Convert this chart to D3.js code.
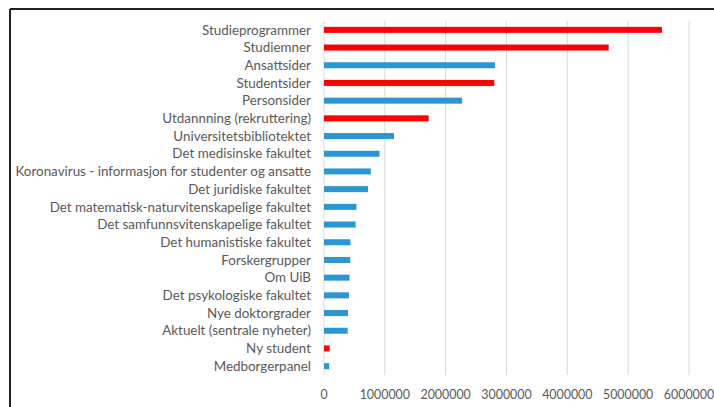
<html>
<head>
<meta charset="utf-8">
<script src="https://d3js.org/d3.v7.min.js"></script>
<style>
  body { margin: 0; background: #fff; }
  text { font-family: Lato, "Open Sans", sans-serif; fill: #595959; }
</style>
</head>
<body>
<div id="chart"></div>
<script>
// categories top to bottom
var categories = ["Studieprogrammer", "Studiemner", "Ansattsider", "Studentsider", "Personsider",
  "Utdannning (rekruttering)", "Universitetsbibliotektet", "Det medisinske fakultet",
  "Koronavirus - informasjon for studenter og ansatte", "Det juridiske fakultet",
  "Det matematisk-naturvitenskapelige fakultet", "Det samfunnsvitenskapelige fakultet",
  "Det humanistiske fakultet", "Forskergrupper", "Om UiB", "Det psykologiske fakultet",
  "Nye doktorgrader", "Aktuelt (sentrale nyheter)", "Ny student", "Medborgerpanel"];
var values = [5555000, 4680000, 2810000, 2800000, 2270000, 1720000, 1150000, 913000, 770000, 725000,
  534000, 520000, 435000, 432000, 420000, 410000, 395000, 390000, 94000, 85000];
// red = student-related pages
var highlighted = [true, true, false, true, false, true, false, false, false, false,
  false, false, false, false, false, false, false, false, true, false];
var ticks = [0, 1000000, 2000000, 3000000, 4000000, 5000000, 6000000];

var W = 714, H = 407;
var margin = {top: 21, right: 25, bottom: 32, left: 324};

var svg = d3.select("#chart").append("svg")
  .attr("width", W).attr("height", H);

// frame (only top and left edges visible)
svg.append("line").attr("x1", 10).attr("x2", W).attr("y1", 9).attr("y2", 9)
  .attr("stroke", "#222").attr("stroke-width", 2);
svg.append("line").attr("x1", 10).attr("x2", 10).attr("y1", 9).attr("y2", H)
  .attr("stroke", "#222").attr("stroke-width", 2);

var x = d3.scaleLinear().domain([0, 6000000]).range([margin.left, 689]);
var y = d3.scaleBand().domain(categories)
  .range([margin.top, H - margin.bottom])
  .paddingInner(0.66).paddingOuter(0.33);

// gridlines
svg.append("g").selectAll("line").data(ticks).enter().append("line")
  .attr("x1", function(d) { return x(d); })
  .attr("x2", function(d) { return x(d); })
  .attr("y1", margin.top).attr("y2", H - margin.bottom)
  .attr("stroke", "#d9d9d9").attr("stroke-width", 1);

// x tick labels
svg.append("g").selectAll("text").data(ticks).enter().append("text")
  .attr("x", function(d) { return x(d); })
  .attr("y", 399)
  .attr("text-anchor", "middle")
  .style("font-size", "12.4px")
  .text(function(d) { return d; });

// bars
svg.append("g").selectAll("rect").data(categories).enter().append("rect")
  .attr("x", x(0))
  .attr("y", function(d) { return y(d); })
  .attr("width", function(d, i) { return x(values[i]) - x(0); })
  .attr("height", y.bandwidth())
  .attr("fill", function(d, i) { return highlighted[i] ? "#ff0000" : "#2a96d3"; });

// category labels
svg.append("g").selectAll("text").data(categories).enter().append("text")
  .attr("x", 311)
  .attr("y", function(d) { return y(d) + y.bandwidth() / 2; })
  .attr("dy", "0.35em")
  .attr("text-anchor", "end")
  .style("font-size", "13.4px")
  .text(function(d) { return d; });
</script>
</body>
</html>
